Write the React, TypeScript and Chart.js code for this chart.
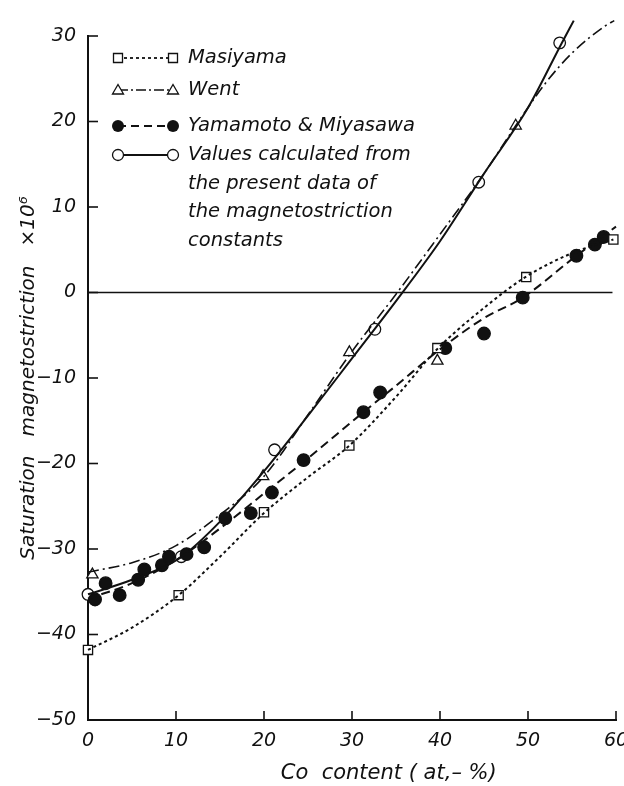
import { useEffect, useRef } from "react";
import { Chart, registerables } from "chart.js";
Chart.register(...registerables);

// ---- axis ticks ----
const xTickValues = [0, 10, 20, 30, 40, 50, 60];
const yTickValues = [-50, -40, -30, -20, -10, 0, 10, 20, 30];

// ---- fitted curves ----
const masiyamaCurveX = [0, 5, 10.3, 15, 20, 25, 29.7, 35, 39.7, 45, 49.7, 55, 59.7];
const masiyamaCurveY = [-41.8, -39.2, -35.4, -30.9, -25.8, -21.6, -17.9, -12.2, -6.6, -1.8, 1.8, 4.6, 6.2];

const wentCurveX = [0, 5, 10, 15, 20, 25, 30, 35, 40, 45, 48.6, 52, 55, 58.8, 59.8];
const wentCurveY = [-32.7, -31.6, -29.6, -26.0, -21.5, -14.3, -6.9, -0.2, 6.8, 13.9, 19.5, 24.5, 28.0, 31.2, 31.8];

const yamaCurveX = [0, 5, 10, 15, 20, 24.5, 31.3, 35, 40.3, 45, 49.4, 55.5, 60];
const yamaCurveY = [-35.8, -34.0, -31.3, -27.6, -23.5, -19.8, -14.0, -10.9, -6.4, -3.0, -0.6, 4.3, 7.7];

const calcCurveX = [0, 5, 10.5, 15, 20, 25, 30, 35, 40, 45, 50, 53.8, 55.2];
const calcCurveY = [-35.3, -33.6, -31.0, -26.8, -20.9, -14.4, -7.7, -1.0, 6.0, 13.9, 21.6, 29.1, 31.8];

// ---- measured points ----
const masiyamaX = [0, 10.3, 20, 29.7, 39.7, 49.8, 59.7];
const masiyamaY = [-41.8, -35.4, -25.7, -17.9, -6.5, 1.8, 6.2];

const wentX = [0.5, 19.9, 29.7, 39.7, 48.6, 58.8];
const wentY = [-33.0, -21.5, -7.0, -8.0, 19.5, 31.2];

const yamaX = [0.8, 2, 3.6, 5.7, 6.4, 8.4, 9.2, 11.2, 13.2, 15.6, 18.5, 20.9, 24.5, 31.3, 33.2, 40.6, 45, 49.4, 55.5, 57.6, 58.6];
const yamaY = [-35.9, -34.0, -35.4, -33.6, -32.4, -31.9, -30.9, -30.6, -29.8, -26.4, -25.8, -23.4, -19.6, -14.0, -11.7, -6.5, -4.8, -0.6, 4.3, 5.6, 6.5];

const calcX = [0, 10.6, 21.2, 32.6, 44.4, 53.6];
const calcY = [-35.3, -30.9, -18.4, -4.3, 12.9, 29.2];

// zero reference line
const zeroLineX = [0, 59.6];
const zeroLineY = [0, 0];

// ---- texts ----
const legendLabels = ["Masiyama", "Went", "Yamamoto & Miyasawa"];
const calcLabelLines = ["Values calculated from", "the present data of", "the magnetostriction", "constants"];
const xTitle = "\u2003\u2003\u2003\u2002Co  content ( at,\u2013 %)";
const yTitle = "Saturation   magnetostriction   \u00d710\u2076";

const pts = (xs: number[], ys: number[]) => xs.map((x, i) => ({ x, y: ys[i] }));

const INK = "#111";
const FONT = "'DejaVu Sans', sans-serif";

function drawMarker(ctx: CanvasRenderingContext2D, kind: string, x: number, y: number) {
  ctx.save();
  ctx.lineWidth = 1.3;
  ctx.strokeStyle = INK;
  ctx.fillStyle = "#fff";
  ctx.setLineDash([]);
  ctx.beginPath();
  if (kind === "rect") {
    ctx.rect(x - 4.5, y - 4.5, 9, 9);
    ctx.fill();
    ctx.stroke();
  } else if (kind === "triangle") {
    ctx.moveTo(x, y - 5.5);
    ctx.lineTo(x + 5.5, y + 4);
    ctx.lineTo(x - 5.5, y + 4);
    ctx.closePath();
    ctx.fill();
    ctx.stroke();
  } else if (kind === "filled") {
    ctx.arc(x, y, 6, 0, Math.PI * 2);
    ctx.fillStyle = INK;
    ctx.fill();
  } else {
    ctx.arc(x, y, 5.5, 0, Math.PI * 2);
    ctx.fill();
    ctx.stroke();
  }
  ctx.restore();
}

const legendPlugin = {
  id: "customLegend",
  afterDraw(chart: any) {
    const ctx: CanvasRenderingContext2D = chart.ctx;
    const { left, top } = chart.chartArea;
    const x0 = left + 30;
    const x1 = left + 85;
    const tx = left + 100;
    const rows = [
      { kind: "rect", dash: [3, 3], width: 1.8, dy: 22, text: [legendLabels[0]] },
      { kind: "triangle", dash: [10, 3, 2, 3], width: 1.5, dy: 54, text: [legendLabels[1]] },
      { kind: "filled", dash: [8, 5], width: 1.8, dy: 90, text: [legendLabels[2]] },
      { kind: "open", dash: [], width: 2, dy: 119, text: calcLabelLines },
    ];
    ctx.save();
    rows.forEach((r) => {
      const y = top + r.dy;
      ctx.beginPath();
      ctx.strokeStyle = INK;
      ctx.lineWidth = r.width;
      ctx.setLineDash(r.dash);
      ctx.moveTo(x0, y);
      ctx.lineTo(x1, y);
      ctx.stroke();
      ctx.setLineDash([]);
      drawMarker(ctx, r.kind, x0, y);
      drawMarker(ctx, r.kind, x1, y);
      ctx.fillStyle = INK;
      ctx.font = `italic 19.5px ${FONT}`;
      ctx.textBaseline = "middle";
      ctx.textAlign = "left";
      r.text.forEach((t, i) => ctx.fillText(t, tx, y + i * 28.5));
    });
    ctx.restore();
  },
};

const innerTicksPlugin = {
  id: "innerTicks",
  afterDatasetsDraw(chart: any) {
    const ctx: CanvasRenderingContext2D = chart.ctx;
    const xs = chart.scales.x;
    const ys = chart.scales.y;
    const { left, bottom } = chart.chartArea;
    ctx.save();
    ctx.strokeStyle = INK;
    ctx.lineWidth = 1.6;
    ctx.setLineDash([]);
    xs.ticks.forEach((t: any, i: number) => {
      if (t.value === xs.min) return;
      const px = xs.getPixelForTick(i);
      ctx.beginPath();
      ctx.moveTo(px, bottom);
      ctx.lineTo(px, bottom - 9);
      ctx.stroke();
    });
    ys.ticks.forEach((t: any, i: number) => {
      if (t.value === ys.min) return;
      const py = ys.getPixelForTick(i);
      ctx.beginPath();
      ctx.moveTo(left, py);
      ctx.lineTo(left + 10, py);
      ctx.stroke();
    });
    ctx.restore();
  },
};

export default function App() {
  const ref = useRef<HTMLCanvasElement>(null);
  useEffect(() => {
    if (!ref.current) return;
    const curve = (data: any, dash: number[], width: number) => ({
      data,
      showLine: true,
      borderColor: INK,
      borderWidth: width,
      borderDash: dash,
      pointRadius: 0,
      cubicInterpolationMode: "monotone",
      tension: 0.4,
      clip: false,
      fill: false,
    });
    const marks = (data: any, style: string, filled: boolean, r: number) => ({
      data,
      showLine: false,
      pointStyle: style,
      pointRadius: r,
      pointBorderWidth: 1.3,
      pointBorderColor: INK,
      pointBackgroundColor: filled ? INK : "#fff",
      clip: false,
    });
    const chart = new Chart(ref.current, {
      type: "scatter",
      data: {
        datasets: [
          curve(pts(zeroLineX, zeroLineY), [], 1.6) as any,
          curve(pts(masiyamaCurveX, masiyamaCurveY), [3, 3], 2) as any,
          curve(pts(wentCurveX, wentCurveY), [11, 4, 2, 4], 1.6) as any,
          curve(pts(yamaCurveX, yamaCurveY), [9, 5], 2) as any,
          curve(pts(calcCurveX, calcCurveY), [], 2) as any,
          marks(pts(masiyamaX, masiyamaY), "rect", false, 6.5) as any,
          marks(pts(wentX, wentY), "triangle", false, 6.5) as any,
          marks(pts(yamaX, yamaY), "circle", true, 6.3) as any,
          marks(pts(calcX, calcY), "circle", false, 5.8) as any,
        ],
      },
      options: {
        responsive: false,
        animation: false,
        layout: { padding: { top: 36, right: 8, left: 0, bottom: 0 } },
        plugins: { legend: { display: false }, tooltip: { enabled: false } },
        scales: {
          x: {
            type: "linear",
            min: 0,
            max: 60,
            afterBuildTicks: (s: any) => {
              s.ticks = xTickValues.map((v) => ({ value: v }));
            },
            afterFit: (s: any) => {
              s.height = 66;
              s.paddingLeft = 0;
              s.paddingRight = 0;
            },
            grid: { display: false, drawTicks: false },
            border: { display: true, color: INK, width: 2 },
            ticks: {
              padding: 10,
              color: INK,
              font: { family: FONT, size: 19, style: "italic" },
              maxRotation: 0,
            },
            title: {
              display: true,
              text: xTitle,
              color: INK,
              font: { family: FONT, size: 21, style: "italic" },
              padding: { top: 0, bottom: 0 },
            },
          },
          y: {
            type: "linear",
            min: -50,
            max: 30,
            afterBuildTicks: (s: any) => {
              s.ticks = yTickValues.map((v) => ({ value: v }));
            },
            afterFit: (s: any) => {
              s.width = 88;
              s.paddingTop = 0;
              s.paddingBottom = 0;
            },
            grid: { display: false, drawTicks: false },
            border: { display: true, color: INK, width: 2 },
            ticks: {
              padding: 12,
              color: INK,
              font: { family: FONT, size: 19, style: "italic" },
              callback: (v: any) => (Number(v) < 0 ? "\u2212" + Math.abs(Number(v)) : String(v)),
            },
            title: {
              display: true,
              text: yTitle,
              color: INK,
              font: { family: FONT, size: 20, style: "italic" },
              padding: { top: 17, bottom: 0 },
            },
          },
        },
      },
      plugins: [innerTicksPlugin, legendPlugin],
    });
    return () => chart.destroy();
  }, []);
  return (
    <div style={{ position: "absolute", left: 0, top: 0, width: 624, height: 786, background: "#fff" }}>
      <canvas ref={ref} width={624} height={786} />
    </div>
  );
}
